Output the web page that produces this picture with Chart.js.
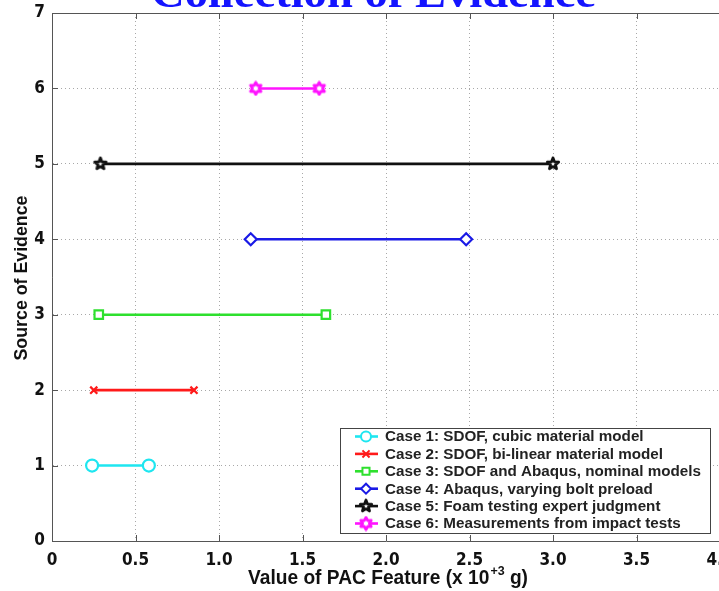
<!DOCTYPE html>
<html>
<head>
<meta charset="utf-8">
<script src="https://cdn.jsdelivr.net/npm/chart.js@4.4.0/dist/chart.umd.min.js"></script>
<style>
  html, body { margin: 0; padding: 0; background: #fff; overflow: hidden; width: 719px; height: 591px; }
  #wrap { position: relative; width: 740px; height: 591px; }
</style>
</head>
<body>
<div id="wrap"><canvas id="grafico" width="740" height="591"></canvas></div>
<script>
const caseLabels = [
  "Case 1: SDOF, cubic material model",
  "Case 2: SDOF, bi-linear material model",
  "Case 3: SDOF and Abaqus, nominal models",
  "Case 4: Abaqus, varying bolt preload",
  "Case 5: Foam testing expert judgment",
  "Case 6: Measurements from impact tests"
];
const sourceLevels = [1, 2, 3, 4, 5, 6];
const lowValues = [0.24, 0.25, 0.28, 1.19, 0.29, 1.22];
const highValues = [0.58, 0.85, 1.64, 2.48, 3.0, 1.6];
const xTicks = [0, 0.5, 1, 1.5, 2, 2.5, 3, 3.5, 4];
const yTicks = [0, 1, 2, 3, 4, 5, 6, 7];

const colores = ["#1ee6f0", "#ff1a1a", "#2ee02e", "#1a1ae6", "#111111", "#ff14ff"];
const CONDENSADA = "'Liberation Sans Narrow', 'DejaVu Sans Condensed', 'Liberation Sans', Arial, sans-serif";
const SANS = "'Liberation Sans', Arial, sans-serif";

const estrella = (puntas, color, ext, int) => {
  const c = document.createElement("canvas");
  c.width = c.height = 16;
  const g = c.getContext("2d");
  g.translate(8, 8);
  g.beginPath();
  for (let i = 0; i < puntas * 2; i++) {
    const r = i % 2 === 0 ? ext : int;
    const a = -Math.PI / 2 + i * Math.PI / puntas;
    g.lineTo(r * Math.cos(a), r * Math.sin(a));
  }
  g.closePath();
  g.fillStyle = "#fff";
  g.fill();
  g.lineWidth = 2.8;
  g.lineJoin = "round";
  g.strokeStyle = color;
  g.stroke();
  return c;
};

const estilos = ["circle", "crossRot", "rect", "rectRot", estrella(5, colores[4], 6, 2.6), estrella(6, colores[5], 6, 3.4)];

const datasets = caseLabels.map((label, i) => ({
  label,
  data: [{ x: lowValues[i], y: sourceLevels[i] }, { x: highValues[i], y: sourceLevels[i] }],
  showLine: true,
  borderColor: colores[i],
  backgroundColor: colores[i],
  borderWidth: 2.6,
  pointStyle: estilos[i],
  pointRadius: i === 1 ? 5 : 6,
  pointBorderWidth: 2.2,
  pointBackgroundColor: "#fff",
  pointBorderColor: colores[i]
}));

// texto estirado horizontalmente hasta un ancho dado
const textoAncho = (ctx, texto, x, y, size, ancho, align = "left") => {
  ctx.font = "bold " + size + "px " + SANS;
  const w = ctx.measureText(texto).width;
  ctx.save();
  ctx.translate(align === "center" ? x - ancho / 2 : x, y);
  ctx.scale(ancho / w, 1);
  ctx.textAlign = "left";
  ctx.fillText(texto, 0, 0);
  ctx.restore();
};

const marco = {
  id: "marco",
  afterDatasetsDraw(chart) {
    const { ctx, chartArea: a, scales: { x, y } } = chart;
    ctx.save();
    ctx.strokeStyle = "#555";
    ctx.lineWidth = 1;
    ctx.beginPath();
    ctx.moveTo(a.left, Math.round(a.top) + 0.5);
    ctx.lineTo(a.right, Math.round(a.top) + 0.5);
    xTicks.forEach(v => {
      const px = Math.round(x.getPixelForValue(v)) + 0.5;
      ctx.moveTo(px, a.bottom); ctx.lineTo(px, a.bottom - 6);
      ctx.moveTo(px, a.top); ctx.lineTo(px, a.top + 6);
    });
    yTicks.forEach(v => {
      const py = Math.round(y.getPixelForValue(v)) + 0.5;
      ctx.moveTo(a.left, py); ctx.lineTo(a.left + 6, py);
    });
    ctx.stroke();

    // leyenda
    const lx = 340, ly = 428, lw = 370, lh = 105;
    ctx.fillStyle = "#fff";
    ctx.fillRect(lx, ly, lw, lh);
    ctx.strokeStyle = "#444";
    ctx.strokeRect(lx + 0.5, ly + 0.5, lw, lh);
    ctx.font = "bold 14px " + SANS;
    const largo = Math.max(...caseLabels.map(t => ctx.measureText(t).width));
    const k = 316 / largo;
    ctx.textBaseline = "middle";
    chart.data.datasets.forEach((ds, i) => {
      const yy = ly + 8.5 + i * 17.4;
      ctx.strokeStyle = ds.borderColor;
      ctx.lineWidth = 2.6;
      ctx.beginPath();
      ctx.moveTo(355, yy); ctx.lineTo(378, yy);
      ctx.stroke();
      ctx.fillStyle = "#fff";
      ctx.lineWidth = 2;
      Chart.helpers.drawPoint(ctx, { pointStyle: ds.pointStyle, radius: 5, borderWidth: 2, rotation: 0 }, 366, yy);
      ctx.fillStyle = "#222";
      ctx.font = "bold 14px " + SANS;
      ctx.save();
      ctx.translate(385, yy + 1);
      ctx.scale(k, 1);
      ctx.fillText(ds.label, 0, 0);
      ctx.restore();
    });

    // titulos de ejes
    ctx.fillStyle = "#111";
    ctx.textBaseline = "alphabetic";
    const p1 = "Value of PAC Feature (x 10", sup = "+3", p2 = " g)";
    ctx.font = "bold 20px " + SANS;
    const w1 = ctx.measureText(p1).width, w3 = ctx.measureText(p2).width;
    ctx.font = "bold 13px " + SANS;
    const w2 = ctx.measureText(sup).width;
    const kx = 280 / (w1 + w2 + w3 + 1);
    ctx.save();
    ctx.translate(248, 584);
    ctx.scale(kx, 1);
    ctx.font = "bold 20px " + SANS;
    ctx.fillText(p1, 0, 0);
    ctx.font = "bold 13px " + SANS;
    ctx.fillText(sup, w1 + 1, -9);
    ctx.font = "bold 20px " + SANS;
    ctx.fillText(p2, w1 + w2 + 1, 0);
    ctx.restore();

    ctx.save();
    ctx.translate(27, 278);
    ctx.rotate(-Math.PI / 2);
    textoAncho(ctx, "Source of Evidence", 0, 0, 18, 165, "center");
    ctx.restore();

    // titulo cortado arriba
    ctx.fillStyle = "#1414ff";
    ctx.font = "bold 44px 'Liberation Serif', 'Times New Roman', serif";
    const wt = ctx.measureText("Collection of Evidence").width;
    ctx.save();
    ctx.translate(151, 7);
    ctx.scale(445 / wt, 1);
    ctx.fillText("Collection of Evidence", 0, 0);
    ctx.restore();
    ctx.restore();
  }
};

new Chart(document.getElementById("grafico"), {
  type: "scatter",
  data: { datasets },
  plugins: [marco],
  options: {
    responsive: false,
    animation: false,
    layout: { padding: { top: 13, right: 20, left: 0, bottom: 0 } },
    plugins: { legend: { display: false }, tooltip: { enabled: false } },
    scales: {
      x: {
        type: "linear", min: 0, max: 4,
        afterBuildTicks: s => { s.ticks = xTicks.map(value => ({ value })); },
        afterFit: s => { s.height = 50; s.paddingLeft = 0; s.paddingRight = 0; },
        grid: { color: "#a8a8a8", drawTicks: false },
        border: { color: "#555", width: 1, dash: [1, 3] },
        ticks: { color: "#111", padding: 9, maxRotation: 0, font: { family: CONDENSADA, size: 17, weight: "bold" } }
      },
      y: {
        type: "linear", min: 0, max: 7,
        afterBuildTicks: s => { s.ticks = yTicks.map(value => ({ value })); },
        afterFit: s => { s.width = 52; s.paddingTop = 0; s.paddingBottom = 0; },
        grid: { color: "#a8a8a8", drawTicks: false },
        border: { color: "#555", width: 1, dash: [1, 3] },
        ticks: { color: "#111", padding: 7, font: { family: CONDENSADA, size: 17, weight: "bold" } }
      }
    }
  }
});
</script>
</body>
</html>
